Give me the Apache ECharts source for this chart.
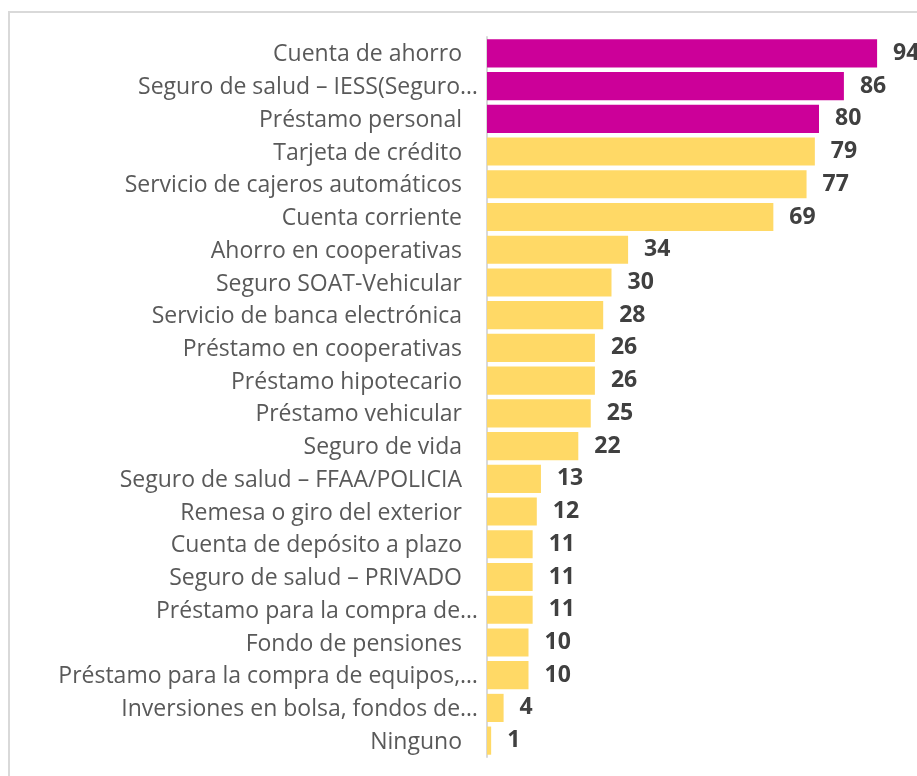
<!DOCTYPE html>
<html>
<head>
<meta charset="utf-8">
<script src="https://cdn.jsdelivr.net/npm/echarts@6/dist/echarts.min.js"></script>
<style>
  html, body { margin: 0; padding: 0; background: #fff; }
  #main { width: 917px; height: 776px; }
</style>
</head>
<body>
<div id="main"></div>
<script>
// categorias (de arriba hacia abajo)
var categorias = [
  'Cuenta de ahorro',
  'Seguro de salud – IESS(Seguro…',
  'Préstamo personal',
  'Tarjeta de crédito',
  'Servicio de cajeros automáticos',
  'Cuenta corriente',
  'Ahorro en cooperativas',
  'Seguro SOAT-Vehicular',
  'Servicio de banca electrónica',
  'Préstamo en cooperativas',
  'Préstamo hipotecario',
  'Préstamo vehicular',
  'Seguro de vida',
  'Seguro de salud – FFAA/POLICIA',
  'Remesa o giro del exterior',
  'Cuenta de depósito a plazo',
  'Seguro de salud – PRIVADO',
  'Préstamo para la compra de…',
  'Fondo de pensiones',
  'Préstamo para la compra de equipos,…',
  'Inversiones en bolsa, fondos de…',
  'Ninguno'
];
var valores = [94, 86, 80, 79, 77, 69, 34, 30, 28, 26, 26, 25, 22, 13, 12, 11, 11, 11, 10, 10, 4, 1];
var destacados = 3; // primeras barras en magenta

var chart = echarts.init(document.getElementById('main'), null, { renderer: 'canvas' });

var datos = valores.map(function (v, i) {
  return {
    value: v,
    itemStyle: { color: i < destacados ? '#CC0099' : '#FFD966' }
  };
});

var option = {
  animation: false,
  backgroundColor: '#fff',
  graphic: [{
    type: 'rect',
    shape: { x: 9, y: 12, width: 960, height: 800 },
    style: { fill: 'none', stroke: '#d9d9d9', lineWidth: 2 },
    silent: true
  }],
  grid: {
    left: 487,
    top: 37,
    width: 415,
    height: 720,
    containLabel: false
  },
  xAxis: {
    type: 'value',
    min: 0,
    max: 100,
    show: false
  },
  yAxis: {
    type: 'category',
    inverse: true,
    data: categorias,
    axisTick: { show: false },
    axisLine: { show: true, lineStyle: { color: '#d9d9d9', width: 2 } },
    axisLabel: {
      margin: 9,
      formatter: function (t) {
        // las etiquetas truncadas quedan mas cerca del eje, como en Excel
        return t.indexOf('…') >= 0 ? '{e|' + t + '}' : '{n|' + t + '}';
      },
      rich: {
        n: { fontFamily: 'Open Sans', fontSize: 23, color: '#595959', padding: [3, 16, 0, 0] },
        e: { fontFamily: 'Open Sans', fontSize: 23, color: '#595959', padding: [3, 0, 0, 0] }
      }
    }
  },
  series: [{
    type: 'bar',
    data: datos,
    barCategoryGap: '14%',
    label: {
      show: true,
      position: 'right',
      distance: 16,
      padding: [3, 0, 0, 0],
      fontFamily: 'Open Sans',
      fontWeight: 'bold',
      fontSize: 23,
      color: '#404040'
    }
  }]
};

chart.setOption(option);
</script>
</body>
</html>
